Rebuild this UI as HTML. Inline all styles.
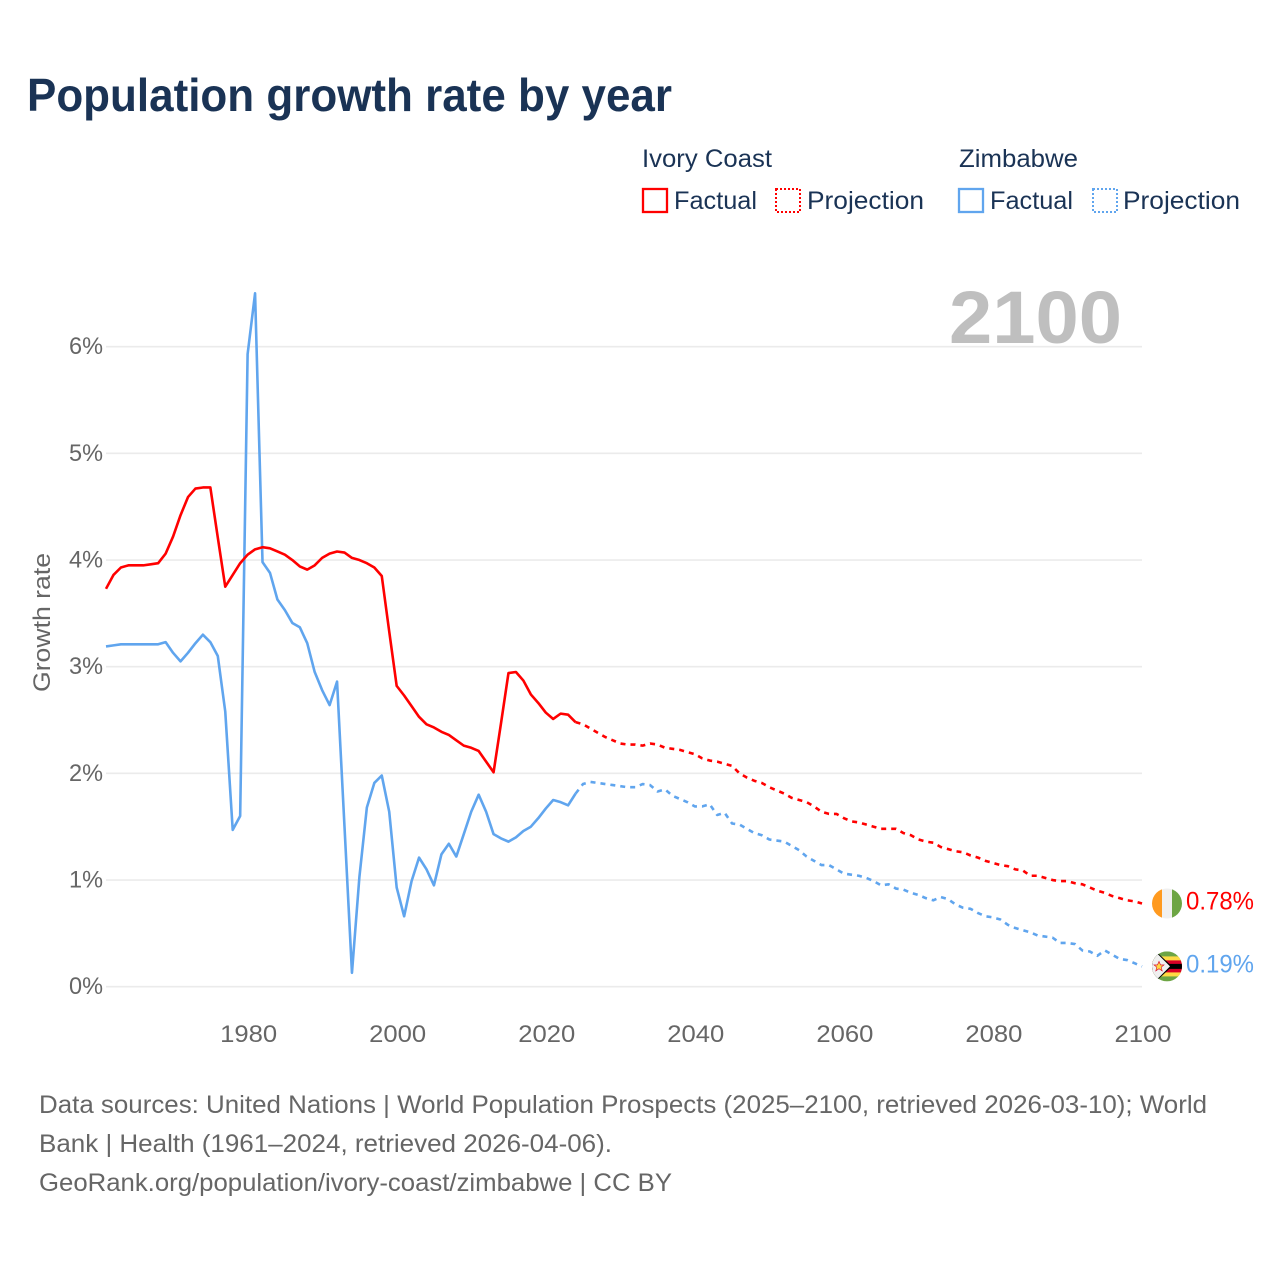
<!DOCTYPE html>
<html lang="en">
<head>
<meta charset="utf-8">
<title>Population growth rate by year</title>
<style>
html,body{margin:0;padding:0;background:#fff;width:1280px;height:1280px;overflow:hidden}
svg{display:block}
text{font-family:"Liberation Sans",sans-serif}
.legend{fill:#1a3355;font-size:25px}
.foot{fill:#666;font-size:25px}
</style>
</head>
<body>
<svg id="chart" width="1280" height="1280" viewBox="0 0 1280 1280" xmlns="http://www.w3.org/2000/svg">
  <defs>
    <clipPath id="civ-clip"><circle cx="0" cy="0" r="15"/></clipPath>
    <clipPath id="zwe-clip"><circle cx="0" cy="0" r="15"/></clipPath>
  </defs>
  <text x="27" y="111" font-size="46" font-weight="700" fill="#1a3355" textLength="645" lengthAdjust="spacingAndGlyphs">Population growth rate by year</text>

  <g>
    <text class="legend" x="642" y="167" textLength="130" lengthAdjust="spacingAndGlyphs">Ivory Coast</text>
    <rect x="643" y="189" width="24" height="23" fill="none" stroke="#ff0000" stroke-width="2.3"/>
    <text class="legend" x="674" y="209" textLength="83" lengthAdjust="spacingAndGlyphs">Factual</text>
    <rect x="776" y="189" width="24" height="23" fill="none" stroke="#ff0000" stroke-width="2" stroke-dasharray="2 2"/>
    <text class="legend" x="807" y="209" textLength="117" lengthAdjust="spacingAndGlyphs">Projection</text>
    <text class="legend" x="959" y="167" textLength="119" lengthAdjust="spacingAndGlyphs">Zimbabwe</text>
    <rect x="959" y="189" width="24" height="23" fill="none" stroke="#60a5ee" stroke-width="2.3"/>
    <text class="legend" x="990" y="209" textLength="83" lengthAdjust="spacingAndGlyphs">Factual</text>
    <rect x="1093" y="189" width="24" height="23" fill="none" stroke="#60a5ee" stroke-width="2" stroke-dasharray="2 2"/>
    <text class="legend" x="1123" y="209" textLength="117" lengthAdjust="spacingAndGlyphs">Projection</text>
  </g>

  <g id="grid"></g>
  <g id="yticks"></g>
  <g id="xticks"></g>
  <text x="949" y="343" font-size="74" font-weight="700" fill="#bfbfbf" textLength="173" lengthAdjust="spacingAndGlyphs">2100</text>
  <text transform="translate(50 692) rotate(-90)" x="0" y="0" font-size="24" fill="#666" textLength="139" lengthAdjust="spacingAndGlyphs">Growth rate</text>
  <g id="series"></g>

  <g id="flag-civ">
    <g clip-path="url(#civ-clip)">
      <rect x="-15" y="-15" width="10" height="30" fill="#ff9a1f"/>
      <rect x="-5" y="-15" width="10" height="30" fill="#f0f0f0"/>
      <rect x="5" y="-15" width="10" height="30" fill="#6da544"/>
    </g>
  </g>
  <g id="flag-zwe">
    <g clip-path="url(#zwe-clip)">
      <rect x="-15" y="-15" width="30" height="30" fill="#6da544"/>
      <rect x="-15" y="-10" width="30" height="20" fill="#ffda44"/>
      <rect x="-15" y="-6" width="30" height="12" fill="#d80027"/>
      <rect x="-15" y="-2.5" width="30" height="5" fill="#000"/>
      <polygon points="-15,-15 -11,-15 5,0 -11,15 -15,15" fill="#000"/>
      <polygon points="-15,-15 -12,-15 3,0 -12,15 -15,15" fill="#f0f0f0"/>
      <polygon points="-8,-5 -6.5,-1.5 -3,-1.5 -5.8,0.8 -4.8,4.5 -8,2.3 -11.2,4.5 -10.2,0.8 -13,-1.5 -9.5,-1.5" fill="#ffda44" stroke="#d80027" stroke-width="0.6"/>
    </g>
  </g>
  <text id="label-civ" x="1186" font-size="25" fill="#ff0000" textLength="68" lengthAdjust="spacingAndGlyphs"></text>
  <text id="label-zwe" x="1186" font-size="25" fill="#60a5ee" textLength="68" lengthAdjust="spacingAndGlyphs"></text>

  <g>
    <text class="foot" x="39" y="1113" textLength="1168" lengthAdjust="spacingAndGlyphs">Data sources: United Nations | World Population Prospects (2025–2100, retrieved 2026-03-10); World</text>
    <text class="foot" x="39" y="1152" textLength="573" lengthAdjust="spacingAndGlyphs">Bank | Health (1961–2024, retrieved 2026-04-06).</text>
    <text class="foot" x="39" y="1191" textLength="633" lengthAdjust="spacingAndGlyphs">GeoRank.org/population/ivory-coast/zimbabwe | CC BY</text>
  </g>
</svg>
<script>
const firstYear = 1961;
const projectionFirstYear = 2024;
const lastYear = 2100;
const yTickValues = [0, 1, 2, 3, 4, 5, 6];
const xTickYears = [1980, 2000, 2020, 2040, 2060, 2080, 2100];
const ivoryFactual = [3.73,3.86,3.93,3.95,3.95,3.95,3.96,3.97,4.06,4.22,4.42,4.59,4.67,4.68,4.68,4.21,3.75,3.86,3.97,4.05,4.10,4.12,4.11,4.08,4.05,4.00,3.94,3.91,3.95,4.02,4.06,4.08,4.07,4.02,4.00,3.97,3.93,3.85,3.33,2.82,2.73,2.63,2.53,2.46,2.43,2.39,2.36,2.31,2.26,2.24,2.21,2.11,2.01,2.47,2.94,2.95,2.87,2.74,2.66,2.57,2.51,2.56,2.55,2.48];
const ivoryProjection = [2.48,2.46,2.42,2.38,2.34,2.31,2.28,2.27,2.27,2.26,2.28,2.27,2.24,2.23,2.22,2.20,2.18,2.14,2.12,2.11,2.09,2.07,2.00,1.96,1.93,1.91,1.87,1.84,1.81,1.77,1.75,1.73,1.69,1.64,1.62,1.62,1.58,1.55,1.54,1.52,1.50,1.48,1.48,1.48,1.44,1.42,1.38,1.36,1.35,1.31,1.29,1.27,1.26,1.23,1.21,1.18,1.16,1.14,1.13,1.10,1.09,1.04,1.04,1.02,1.00,0.99,0.99,0.97,0.96,0.93,0.90,0.88,0.85,0.83,0.81,0.80,0.78];
const zimbabweFactual = [3.19,3.20,3.21,3.21,3.21,3.21,3.21,3.21,3.23,3.13,3.05,3.13,3.22,3.30,3.23,3.10,2.58,1.47,1.60,5.93,6.50,3.98,3.88,3.63,3.53,3.41,3.37,3.22,2.95,2.78,2.64,2.86,1.50,0.13,1.03,1.68,1.91,1.98,1.64,0.93,0.66,0.99,1.21,1.10,0.95,1.24,1.34,1.22,1.43,1.64,1.80,1.64,1.43,1.39,1.36,1.40,1.46,1.50,1.58,1.67,1.75,1.73,1.70,1.81];
const zimbabweProjection = [1.81,1.90,1.92,1.91,1.90,1.89,1.88,1.87,1.87,1.90,1.89,1.83,1.85,1.79,1.76,1.73,1.69,1.69,1.71,1.61,1.63,1.53,1.52,1.48,1.44,1.42,1.38,1.37,1.36,1.32,1.28,1.22,1.18,1.14,1.14,1.10,1.06,1.05,1.04,1.02,0.99,0.95,0.96,0.92,0.91,0.88,0.86,0.83,0.81,0.84,0.82,0.77,0.74,0.73,0.69,0.66,0.65,0.63,0.58,0.55,0.53,0.51,0.48,0.47,0.46,0.41,0.41,0.40,0.34,0.33,0.29,0.34,0.30,0.26,0.25,0.22,0.19];

const SVGNS = 'http://www.w3.org/2000/svg';
const plotLeft = 106, plotRight = 1142, plotZero = 986.7, plotPerUnit = 106.67;
function xScale(year) {
  return plotLeft + (year - firstYear) * (plotRight - plotLeft) / (lastYear - firstYear);
}
function yScale(v) {
  return plotZero - v * plotPerUnit;
}
function linePath(values, startYear) {
  return values.map(function (v, i) {
    return (i ? 'L' : 'M') + xScale(startYear + i).toFixed(2) + ' ' + yScale(v).toFixed(2);
  }).join(' ');
}

const gridGroup = document.getElementById('grid');
const yTickGroup = document.getElementById('yticks');
yTickValues.forEach(function (v) {
  const line = document.createElementNS(SVGNS, 'line');
  
  
  line.setAttribute('x1', plotLeft);
  line.setAttribute('x2', plotRight);
  line.setAttribute('y1', yScale(v));
  line.setAttribute('y2', yScale(v));
  line.setAttribute('stroke', '#ebebeb');
  line.setAttribute('stroke-width', '1.6');
  gridGroup.appendChild(line);
  const label = document.createElementNS(SVGNS, 'text');
  
  
  label.setAttribute('x', 69);
  label.setAttribute('y', yScale(v) + 7.5);
  label.setAttribute('font-size', '24');
  label.setAttribute('fill', '#666');
  label.setAttribute('textLength', '34');
  label.setAttribute('lengthAdjust', 'spacingAndGlyphs');
  label.textContent = v + '%';
  yTickGroup.appendChild(label);
});

const xTickGroup = document.getElementById('xticks');
xTickYears.forEach(function (year) {
  const label = document.createElementNS(SVGNS, 'text');
  
  
  label.setAttribute('x', xScale(year) + 1 - 28.5);
  label.setAttribute('y', 1042);
  label.setAttribute('font-size', '24');
  label.setAttribute('fill', '#666');
  label.setAttribute('textLength', '57');
  label.setAttribute('lengthAdjust', 'spacingAndGlyphs');
  label.textContent = year;
  xTickGroup.appendChild(label);
});

const seriesGroup = document.getElementById('series');
function addLine(name, values, startYear, color, dash) {
  const p = document.createElementNS(SVGNS, 'path');
  
  
  p.setAttribute('d', linePath(values, startYear));
  p.setAttribute('fill', 'none');
  p.setAttribute('stroke', color);
  p.setAttribute('stroke-width', '2.6');
  p.setAttribute('stroke-linejoin', 'round');
  if (dash) p.setAttribute('stroke-dasharray', dash);
  seriesGroup.appendChild(p);
}
addLine('zimbabwe-factual-line', zimbabweFactual, firstYear, '#60a5ee');
addLine('ivory-coast-factual-line', ivoryFactual, firstYear, '#ff0000');
addLine('zimbabwe-projection-line', zimbabweProjection, projectionFirstYear, '#60a5ee', '5 5');
addLine('ivory-coast-projection-line', ivoryProjection, projectionFirstYear, '#ff0000', '5 5');

const ivoryEnd = ivoryProjection[ivoryProjection.length - 1];
const zimbabweEnd = zimbabweProjection[zimbabweProjection.length - 1];
document.getElementById('flag-civ').setAttribute('transform', 'translate(1167 ' + yScale(ivoryEnd).toFixed(1) + ')');
document.getElementById('flag-zwe').setAttribute('transform', 'translate(1167 ' + yScale(zimbabweEnd).toFixed(1) + ')');
const ivoryLabel = document.getElementById('label-civ');
ivoryLabel.setAttribute('y', yScale(ivoryEnd) + 6);
ivoryLabel.textContent = ivoryEnd.toFixed(2) + '%';
const zimbabweLabel = document.getElementById('label-zwe');
zimbabweLabel.setAttribute('y', yScale(zimbabweEnd) + 6);
zimbabweLabel.textContent = zimbabweEnd.toFixed(2) + '%';
</script>
</body>
</html>
